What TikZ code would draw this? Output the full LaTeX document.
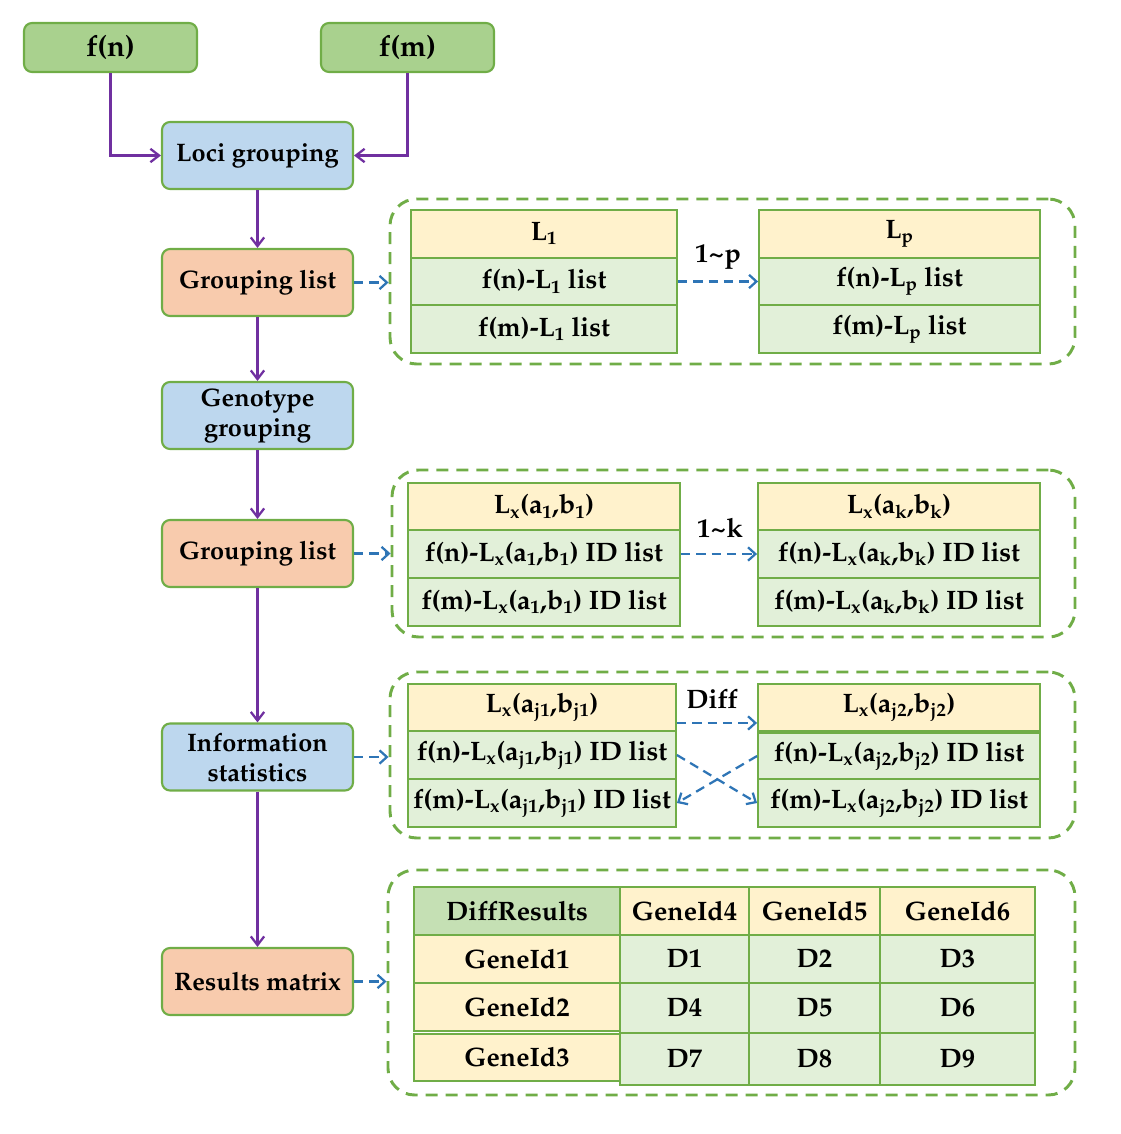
\documentclass[tikz,border=0pt]{standalone}
\usepackage[T1]{fontenc}
\renewcommand{\rmdefault}{ppl}
\usetikzlibrary{arrows.meta}
\definecolor{gfill}{HTML}{A9D18E}
\definecolor{gborder}{HTML}{70AD47}
\definecolor{bfill}{HTML}{BDD7EE}
\definecolor{ofill}{HTML}{F8CBAD}
\definecolor{yfill}{HTML}{FFF2CC}
\definecolor{lgfill}{HTML}{E2F0D9}
\definecolor{dgfill}{HTML}{C5E0B4}
\definecolor{purp}{HTML}{7030A0}
\definecolor{dblue}{HTML}{2E75B6}
\tikzset{
  every node/.style={font=\fontsize{19}{22.5}\selectfont\bfseries, inner sep=0pt},
  stepbox/.style={draw=gborder, line width=1.6pt, rounded corners=6pt, minimum width=143.25pt, minimum height=50.25pt, align=center},
  inbox/.style={stepbox, fill=gfill, minimum width=129.75pt, minimum height=36.75pt, font=\fontsize{22}{26}\selectfont\bfseries},
  bluebox/.style={stepbox, fill=bfill},
  orangebox/.style={stepbox, fill=ofill},
  flow/.style={draw=purp, line width=1.7pt, -{Straight Barb[length=6.5pt,width=10pt,line width=1.7pt]}},
  darrow/.style={draw=dblue, line width=1.7pt, dash pattern=on 7pt off 4.5pt, -{Straight Barb[length=5.5pt,width=10pt,line width=1.7pt]}},
  container/.style={draw=gborder, line width=2.2pt, dash pattern=on 9pt off 6pt, rounded corners=20pt},
  cell/.style={draw=gborder, line width=1.4pt, font=\fontsize{20}{24}\selectfont\bfseries},
  lbl/.style={font=\fontsize{20}{24}\selectfont\bfseries}
}
\newcommand{\cellbox}[7]{\node[cell, fill=#6, minimum width={(#4-#2)*0.75pt}, minimum height={(#5-#3)*0.75pt}] (#1) at ({(#2+#4)/2},{(#3+#5)/2}) {#7};}
\newcommand{\contbox}[5]{\node[container, minimum width={(#4-#2)*0.75pt}, minimum height={(#5-#3)*0.75pt}] (#1) at ({(#2+#4)/2},{(#3+#5)/2}) {};}
\newcommand{\sub}[1]{\textsubscript{#1}}
\begin{document}
\begin{tikzpicture}[x=0.75pt, y=-0.75pt]
\useasboundingbox (0,0) rectangle (1120,1134);
% left flow
\node[inbox] (fn) at (110.5,47.5) {f(n)};
\node[inbox] (fm) at (407.5,47.5) {f(m)};
\node[bluebox] (loci) at (257.5,155.5) {Loci grouping};
\node[orangebox] (gl1) at (257.5,282.5) {Grouping list};
\node[bluebox] (geno) at (257.5,415.5) {Genotype\\grouping};
\node[orangebox] (gl2) at (257.5,553.5) {Grouping list};
\node[bluebox] (info) at (257.5,757) {Information\\statistics};
\node[orangebox] (res) at (257.5,981.5) {Results matrix};
\draw[flow] (fn.south) |- (loci.west);
\draw[flow] (fm.south) |- (loci.east);
\draw[flow] (loci) -- (gl1);
\draw[flow] (gl1) -- (geno);
\draw[flow] (geno) -- (gl2);
\draw[flow] (gl2) -- (info);
\draw[flow] (info) -- (res);
% containers
\contbox{c1}{390}{199}{1075}{364}
\contbox{c2}{392}{470}{1075}{637}
\contbox{c3}{390}{672}{1075}{838}
\contbox{c4}{388}{870}{1075}{1095}
\draw[darrow] (gl1.east) -- (gl1.east -| c1.west);
\draw[darrow] (gl2.east) -- (gl2.east -| c2.west);
\draw[darrow] (info.east) -- (info.east -| c3.west);
\draw[darrow] (res.east) -- (res.east -| c4.west);
% table 1
\cellbox{h1a}{411}{210}{677}{258}{yfill}{L\sub{1}}
\cellbox{n1a}{411}{258}{677}{305}{lgfill}{f(n)-L\sub{1} list}
\cellbox{m1a}{411}{305}{677}{353}{lgfill}{f(m)-L\sub{1} list}
\cellbox{h1b}{759}{210}{1040}{258}{yfill}{L\sub{p}}
\cellbox{n1b}{759}{258}{1040}{305}{lgfill}{f(n)-L\sub{p} list}
\cellbox{m1b}{759}{305}{1040}{353}{lgfill}{f(m)-L\sub{p} list}
\draw[darrow] (n1a.east) -- (n1b.west);
\node[lbl] (t1) at (718,257) {1\textasciitilde p};
% table 2
\cellbox{h2a}{408}{483}{680}{530}{yfill}{L\sub{x}(a\sub{1},b\sub{1})}
\cellbox{n2a}{408}{530}{680}{578}{lgfill}{f(n)-L\sub{x}(a\sub{1},b\sub{1}) ID list}
\cellbox{m2a}{408}{578}{680}{626}{lgfill}{f(m)-L\sub{x}(a\sub{1},b\sub{1}) ID list}
\cellbox{h2b}{758}{483}{1040}{530}{yfill}{L\sub{x}(a\sub{k},b\sub{k})}
\cellbox{n2b}{758}{530}{1040}{578}{lgfill}{f(n)-L\sub{x}(a\sub{k},b\sub{k}) ID list}
\cellbox{m2b}{758}{578}{1040}{626}{lgfill}{f(m)-L\sub{x}(a\sub{k},b\sub{k}) ID list}
\draw[darrow] (n2a.east) -- (n2b.west);
\node[lbl] (t2) at (720,528) {1\textasciitilde k};
% table 3
\cellbox{h3a}{408}{684}{676}{731}{yfill}{L\sub{x}(a\sub{j1},b\sub{j1})}
\cellbox{n3a}{408}{731}{676}{779}{lgfill}{f(n)-L\sub{x}(a\sub{j1},b\sub{j1}) ID list}
\cellbox{m3a}{408}{779}{676}{827}{lgfill}{f(m)-L\sub{x}(a\sub{j1},b\sub{j1}) ID list}
\cellbox{h3b}{758}{684}{1040}{731}{yfill}{L\sub{x}(a\sub{j2},b\sub{j2})}
\cellbox{n3b}{758}{733}{1040}{779}{lgfill}{f(n)-L\sub{x}(a\sub{j2},b\sub{j2}) ID list}
\cellbox{m3b}{758}{779}{1040}{827}{lgfill}{f(m)-L\sub{x}(a\sub{j2},b\sub{j2}) ID list}
\draw[darrow] ([yshift=-11.6pt]h3a.east) -- ([yshift=-11.6pt]h3b.west);
\draw[darrow] (n3a.east) -- (m3b.west);
\draw[darrow] (n3b.west) -- (m3a.east);
\node[lbl] (t3) at (712,699) {Diff};
% table 4
\cellbox{dr}{414}{887}{620}{935}{dgfill}{DiffResults}
\cellbox{g4}{620}{887}{749}{935}{yfill}{GeneId4}
\cellbox{g5}{749}{887}{880}{935}{yfill}{GeneId5}
\cellbox{g6}{880}{887}{1035}{935}{yfill}{GeneId6}
\cellbox{g1}{414}{935}{620}{983}{yfill}{GeneId1}
\cellbox{g2}{414}{983}{620}{1031}{yfill}{GeneId2}
\cellbox{g3}{414}{1034}{620}{1081}{yfill}{GeneId3}
\cellbox{d1}{620}{935}{749}{983}{lgfill}{D1}
\cellbox{d2}{749}{935}{880}{983}{lgfill}{D2}
\cellbox{d3}{880}{935}{1035}{983}{lgfill}{D3}
\cellbox{d4}{620}{983}{749}{1033}{lgfill}{D4}
\cellbox{d5}{749}{983}{880}{1033}{lgfill}{D5}
\cellbox{d6}{880}{983}{1035}{1033}{lgfill}{D6}
\cellbox{d7}{620}{1033}{749}{1085}{lgfill}{D7}
\cellbox{d8}{749}{1033}{880}{1085}{lgfill}{D8}
\cellbox{d9}{880}{1033}{1035}{1085}{lgfill}{D9}
\end{tikzpicture}
\end{document}
